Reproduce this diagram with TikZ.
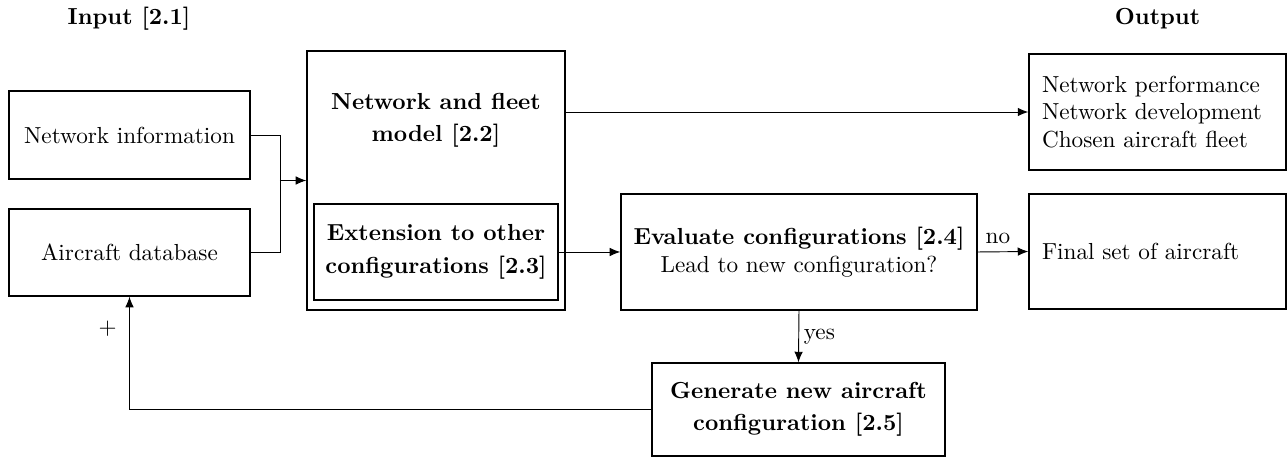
\documentclass[tikz,border=0pt]{standalone}
\usetikzlibrary{arrows.meta}
\tikzset{%
    blk/.style={rectangle, draw, line width=0.6pt, inner sep=0pt, align=center},
    blkb/.style={blk, font=\bfseries},
    blkl/.style={blk, inner xsep=0.197cm, text width=3.5cm, align=left},
    lin/.style={line width=0.4pt},
    lina/.style={line width=0.4pt, -{Latex[length=1.6mm,width=1.3mm]}},
}

\begin{document}
\begin{tikzpicture}
    \useasboundingbox (0,0) rectangle (19.5,-6.924);
    \node [font=\bfseries] (tin) at (1.955,-0.29) {Input [2.1]};
    \node [font=\bfseries] (tout) at (17.538,-0.29) {Output};
    \node [blk, minimum width=3.652cm, minimum height=1.333cm] (net) at (1.962,-2.045) {Network information};
    \node [blk, minimum width=3.652cm, minimum height=1.318cm] (db) at (1.962,-3.826) {Aircraft database};
    \node [blk, minimum width=3.909cm, minimum height=3.924cm] (mod) at (6.606,-2.735) {};
    \node [blkb, draw=none] (modt) at (6.606,-1.82) {Network and fleet\\[2pt] model [2.2]};
    \node [blkb, minimum width=3.697cm, minimum height=1.455cm] (ext) at (6.606,-3.818) {Extension to other\\[2pt] configurations [2.3]};
    \node [blkl, minimum height=1.758cm] (res) at (17.538,-1.697) {Network performance\\ Network development\\ Chosen aircraft fleet};
    \node [blkl, minimum height=1.742cm] (fin) at (17.538,-3.811) {Final set of aircraft};
    \node [blk, minimum width=5.394cm, minimum height=1.758cm] (eval) at (12.106,-3.818) {\textbf{Evaluate configurations [2.4]}\\ Lead to new configuration?};
    \node [blkb, minimum width=4.439cm, minimum height=1.409cm] (gen) at (12.098,-6.205) {Generate new aircraft\\[2pt] configuration [2.5]};
    \coordinate (j) at (4.242,-2.735);
    \draw [lin] (net.east) -| (j);
    \draw [lin] (db.east) -| (j);
    \draw [lina] (j) -- (mod.west);
    \draw [lina] (mod.east |- res.west) -- (res.west);
    \draw [lina] (ext.east) -- (eval.west);
    \draw [lina] (eval.east) -- node[above, pos=0.4] {no} (fin.west);
    \draw [lina] (eval.south) -- node[right, inner sep=2pt] {yes} (gen.north);
    \draw [lina] (gen.west) -| node[left, pos=0.86, xshift=-2pt] {$+$} (db.south);
\end{tikzpicture}
\end{document}
